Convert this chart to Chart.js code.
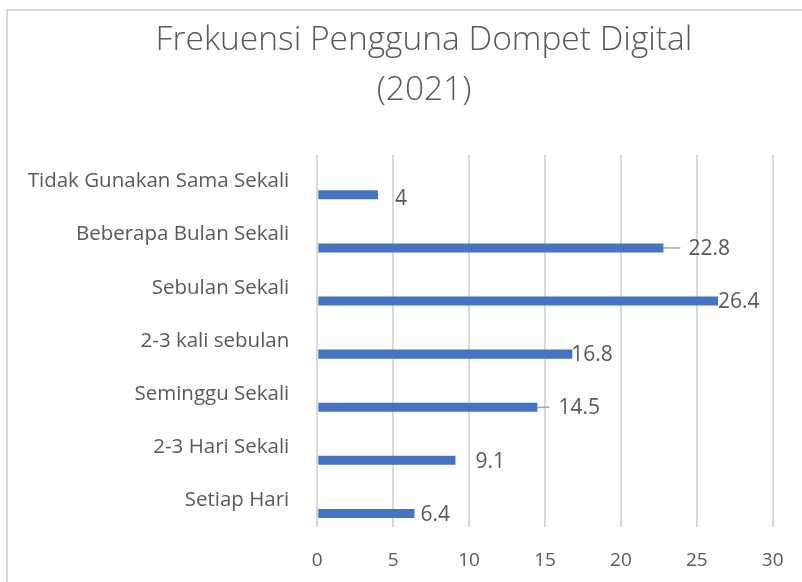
<!DOCTYPE html>
<html>
<head>
<meta charset="utf-8">
<script src="https://cdn.jsdelivr.net/npm/chart.js@4.4.1/dist/chart.umd.min.js"></script>
<style>
  html, body { margin: 0; padding: 0; background: #ffffff; overflow: hidden; }
  #wrap { width: 802px; height: 582px; overflow: hidden; }
</style>
</head>
<body>
<div id="wrap"><canvas id="c" width="848" height="582"></canvas></div>
<script>
// ---- data ----
const categories = [
  'Tidak Gunakan Sama Sekali',
  'Beberapa Bulan Sekali',
  'Sebulan Sekali',
  '2-3 kali sebulan',
  'Seminggu Sekali',
  '2-3 Hari Sekali',
  'Setiap Hari'
];
const values = [4, 22.8, 26.4, 16.8, 14.5, 9.1, 6.4];
const emptySeries = [0, 0, 0, 0, 0, 0, 0];
const xTicks = [0, 5, 10, 15, 20, 25, 30];
const titleLines = ['Frekuensi Pengguna Dompet Digital', '(2021)'];

// ---- label styling (pixel offsets of data labels from bar end) ----
const labelDX = [17, 25, 0, -1, 21, 20, 6];
const labelDY = [4, 1, 1, 1, 1, 1.5, 2];
const leaderLen = [0, 17, 0, 0, 12, 0, 0];

const textColor = '#595959';
const barColor = '#4472C4';
const gridColor = '#d9d9d9';
const fontFamily = '"Open Sans", "Liberation Sans", sans-serif';

const frame = {
  id: 'frame',
  beforeDraw(chart) {
    const ctx = chart.ctx;
    ctx.save();
    ctx.fillStyle = '#ffffff';
    ctx.fillRect(0, 0, chart.width, chart.height);
    ctx.strokeStyle = gridColor;
    ctx.lineWidth = 2;
    ctx.beginPath();
    ctx.moveTo(7, chart.height + 2);
    ctx.lineTo(7, 10);
    ctx.lineTo(chart.width + 2, 10);
    ctx.stroke();
    ctx.restore();
  }
};

const dataLabels = {
  id: 'dataLabels',
  afterDatasetsDraw(chart) {
    const ctx = chart.ctx;
    const meta = chart.getDatasetMeta(1);
    ctx.save();
    ctx.font = '21px ' + fontFamily;
    ctx.fillStyle = textColor;
    ctx.textAlign = 'left';
    ctx.textBaseline = 'middle';
    meta.data.forEach((el, i) => {
      const x = el.x, y = el.y;
      if (leaderLen[i] > 0) {
        ctx.strokeStyle = '#a6a6a6';
        ctx.lineWidth = 1.5;
        ctx.beginPath();
        ctx.moveTo(x, y);
        ctx.lineTo(x + leaderLen[i], y);
        ctx.stroke();
      }
      ctx.fillText(String(values[i]), x + labelDX[i], y + labelDY[i]);
    });
    ctx.restore();
  }
};

new Chart(document.getElementById('c'), {
  type: 'bar',
  data: {
    labels: categories,
    datasets: [
      { label: 'hidden', data: emptySeries, backgroundColor: 'rgba(0,0,0,0)', borderWidth: 0 },
      { label: 'Frekuensi', data: values, backgroundColor: barColor, borderWidth: 0 }
    ]
  },
  options: {
    indexAxis: 'y',
    responsive: false,
    animation: false,
    events: [],
    categoryPercentage: 1.0,
    barPercentage: 0.34,
    layout: { padding: 0 },
    plugins: {
      legend: { display: false },
      tooltip: { enabled: false },
      title: {
        display: true,
        text: titleLines,
        color: textColor,
        font: { family: fontFamily, size: 33.5, weight: '300', lineHeight: 1.4925 },
        padding: { top: 15, bottom: 40 }
      }
    },
    scales: {
      x: {
        type: 'linear',
        min: xTicks[0],
        max: xTicks[xTicks.length - 1],
        afterBuildTicks(scale) { scale.ticks = xTicks.map(v => ({ value: v })); },
        afterFit(scale) { scale.height = 55.3; },
        grid: { color: gridColor, lineWidth: 2, drawTicks: false },
        border: { display: false },
        ticks: { color: textColor, font: { family: fontFamily, size: 19 }, padding: 22 }
      },
      y: {
        afterFit(scale) { scale.width = 317.3; },
        grid: { display: false, drawTicks: false },
        border: { display: false },
        ticks: { color: textColor, font: { family: fontFamily, size: 20.5 }, padding: 28 }
      },
      yRight: {
        type: 'category',
        position: 'right',
        afterFit(scale) { scale.width = 75.3; },
        grid: { display: false, drawTicks: false },
        border: { display: false },
        ticks: { display: false }
      }
    }
  },
  plugins: [frame, dataLabels]
});
</script>
</body>
</html>
